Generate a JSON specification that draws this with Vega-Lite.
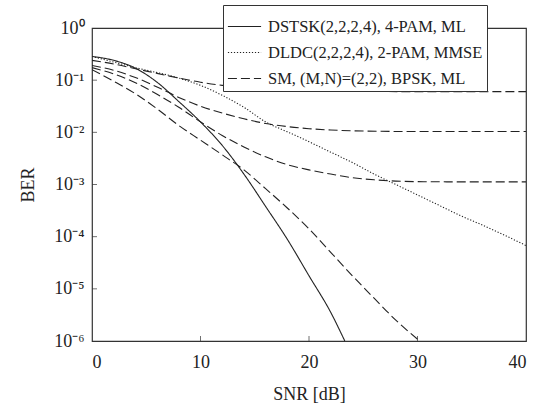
{
  "$schema": "https://vega.github.io/schema/vega-lite/v6.json",
  "width": 434,
  "height": 313,
  "autosize": "none",
  "padding": {"left": 92, "top": 28, "right": 13, "bottom": 69},
  "config": {
    "font": "Liberation Serif",
    "view": {"stroke": "#333", "strokeWidth": 1.2},
    "axis": {"labelFont": "Liberation Serif", "titleFont": "Liberation Serif", "labelColor": "#222", "titleColor": "#222", "titleFontWeight": "normal", "domain": false, "grid": false, "ticks": false},
    "legend": {"labelFont": "Liberation Serif"}
  },
  "datasets": {
    "xt": [{"snr": 10, "lg": -6}, {"snr": 20, "lg": -6}, {"snr": 30, "lg": -6}],
    "yt": [{"snr": 0, "lg": -1}, {"snr": 0, "lg": -2}, {"snr": 0, "lg": -3}, {"snr": 0, "lg": -4}, {"snr": 0, "lg": -5}]
  },
  "data": {"values": [
    {"s": "DSTSK(2,2,2,4), 4-PAM, ML", "c": "a", "snr": 0, "lg": -0.545},
    {"s": "DSTSK(2,2,2,4), 4-PAM, ML", "c": "a", "snr": 2, "lg": -0.62},
    {"s": "DSTSK(2,2,2,4), 4-PAM, ML", "c": "a", "snr": 4, "lg": -0.77},
    {"s": "DSTSK(2,2,2,4), 4-PAM, ML", "c": "a", "snr": 6, "lg": -1.04},
    {"s": "DSTSK(2,2,2,4), 4-PAM, ML", "c": "a", "snr": 8, "lg": -1.41},
    {"s": "DSTSK(2,2,2,4), 4-PAM, ML", "c": "a", "snr": 10, "lg": -1.80},
    {"s": "DSTSK(2,2,2,4), 4-PAM, ML", "c": "a", "snr": 12, "lg": -2.25},
    {"s": "DSTSK(2,2,2,4), 4-PAM, ML", "c": "a", "snr": 14, "lg": -2.80},
    {"s": "DSTSK(2,2,2,4), 4-PAM, ML", "c": "a", "snr": 16, "lg": -3.42},
    {"s": "DSTSK(2,2,2,4), 4-PAM, ML", "c": "a", "snr": 18, "lg": -4.05},
    {"s": "DSTSK(2,2,2,4), 4-PAM, ML", "c": "a", "snr": 20, "lg": -4.75},
    {"s": "DSTSK(2,2,2,4), 4-PAM, ML", "c": "a", "snr": 22, "lg": -5.45},
    {"s": "DSTSK(2,2,2,4), 4-PAM, ML", "c": "a", "snr": 23.3, "lg": -6.0},
    {"s": "DLDC(2,2,2,4), 2-PAM, MMSE", "c": "b", "snr": 0, "lg": -0.545},
    {"s": "DLDC(2,2,2,4), 2-PAM, MMSE", "c": "b", "snr": 4, "lg": -0.76},
    {"s": "DLDC(2,2,2,4), 2-PAM, MMSE", "c": "b", "snr": 8, "lg": -0.96},
    {"s": "DLDC(2,2,2,4), 2-PAM, MMSE", "c": "b", "snr": 10, "lg": -1.10},
    {"s": "DLDC(2,2,2,4), 2-PAM, MMSE", "c": "b", "snr": 12, "lg": -1.29},
    {"s": "DLDC(2,2,2,4), 2-PAM, MMSE", "c": "b", "snr": 14, "lg": -1.52},
    {"s": "DLDC(2,2,2,4), 2-PAM, MMSE", "c": "b", "snr": 16, "lg": -1.80},
    {"s": "DLDC(2,2,2,4), 2-PAM, MMSE", "c": "b", "snr": 18, "lg": -1.99},
    {"s": "DLDC(2,2,2,4), 2-PAM, MMSE", "c": "b", "snr": 20, "lg": -2.18},
    {"s": "DLDC(2,2,2,4), 2-PAM, MMSE", "c": "b", "snr": 22, "lg": -2.38},
    {"s": "DLDC(2,2,2,4), 2-PAM, MMSE", "c": "b", "snr": 24, "lg": -2.58},
    {"s": "DLDC(2,2,2,4), 2-PAM, MMSE", "c": "b", "snr": 26, "lg": -2.80},
    {"s": "DLDC(2,2,2,4), 2-PAM, MMSE", "c": "b", "snr": 28, "lg": -3.00},
    {"s": "DLDC(2,2,2,4), 2-PAM, MMSE", "c": "b", "snr": 30, "lg": -3.20},
    {"s": "DLDC(2,2,2,4), 2-PAM, MMSE", "c": "b", "snr": 32, "lg": -3.40},
    {"s": "DLDC(2,2,2,4), 2-PAM, MMSE", "c": "b", "snr": 34, "lg": -3.60},
    {"s": "DLDC(2,2,2,4), 2-PAM, MMSE", "c": "b", "snr": 36, "lg": -3.78},
    {"s": "DLDC(2,2,2,4), 2-PAM, MMSE", "c": "b", "snr": 38, "lg": -3.97},
    {"s": "DLDC(2,2,2,4), 2-PAM, MMSE", "c": "b", "snr": 40, "lg": -4.17},
    {"s": "SM, (M,N)=(2,2), BPSK, ML", "c": "d1", "snr": 0, "lg": -0.62},
    {"s": "SM, (M,N)=(2,2), BPSK, ML", "c": "d1", "snr": 2, "lg": -0.69},
    {"s": "SM, (M,N)=(2,2), BPSK, ML", "c": "d1", "snr": 4, "lg": -0.78},
    {"s": "SM, (M,N)=(2,2), BPSK, ML", "c": "d1", "snr": 6, "lg": -0.87},
    {"s": "SM, (M,N)=(2,2), BPSK, ML", "c": "d1", "snr": 8, "lg": -0.96},
    {"s": "SM, (M,N)=(2,2), BPSK, ML", "c": "d1", "snr": 10, "lg": -1.04},
    {"s": "SM, (M,N)=(2,2), BPSK, ML", "c": "d1", "snr": 12, "lg": -1.10},
    {"s": "SM, (M,N)=(2,2), BPSK, ML", "c": "d1", "snr": 14, "lg": -1.14},
    {"s": "SM, (M,N)=(2,2), BPSK, ML", "c": "d1", "snr": 16, "lg": -1.17},
    {"s": "SM, (M,N)=(2,2), BPSK, ML", "c": "d1", "snr": 18, "lg": -1.19},
    {"s": "SM, (M,N)=(2,2), BPSK, ML", "c": "d1", "snr": 20, "lg": -1.205},
    {"s": "SM, (M,N)=(2,2), BPSK, ML", "c": "d1", "snr": 25, "lg": -1.215},
    {"s": "SM, (M,N)=(2,2), BPSK, ML", "c": "d1", "snr": 30, "lg": -1.22},
    {"s": "SM, (M,N)=(2,2), BPSK, ML", "c": "d1", "snr": 40, "lg": -1.22},
    {"s": "SM, (M,N)=(2,2), BPSK, ML", "c": "d2", "snr": 0, "lg": -0.72},
    {"s": "SM, (M,N)=(2,2), BPSK, ML", "c": "d2", "snr": 2, "lg": -0.81},
    {"s": "SM, (M,N)=(2,2), BPSK, ML", "c": "d2", "snr": 4, "lg": -0.95},
    {"s": "SM, (M,N)=(2,2), BPSK, ML", "c": "d2", "snr": 6, "lg": -1.13},
    {"s": "SM, (M,N)=(2,2), BPSK, ML", "c": "d2", "snr": 8, "lg": -1.33},
    {"s": "SM, (M,N)=(2,2), BPSK, ML", "c": "d2", "snr": 10, "lg": -1.50},
    {"s": "SM, (M,N)=(2,2), BPSK, ML", "c": "d2", "snr": 12, "lg": -1.63},
    {"s": "SM, (M,N)=(2,2), BPSK, ML", "c": "d2", "snr": 14, "lg": -1.74},
    {"s": "SM, (M,N)=(2,2), BPSK, ML", "c": "d2", "snr": 16, "lg": -1.83},
    {"s": "SM, (M,N)=(2,2), BPSK, ML", "c": "d2", "snr": 18, "lg": -1.89},
    {"s": "SM, (M,N)=(2,2), BPSK, ML", "c": "d2", "snr": 20, "lg": -1.93},
    {"s": "SM, (M,N)=(2,2), BPSK, ML", "c": "d2", "snr": 22, "lg": -1.955},
    {"s": "SM, (M,N)=(2,2), BPSK, ML", "c": "d2", "snr": 25, "lg": -1.975},
    {"s": "SM, (M,N)=(2,2), BPSK, ML", "c": "d2", "snr": 30, "lg": -1.985},
    {"s": "SM, (M,N)=(2,2), BPSK, ML", "c": "d2", "snr": 40, "lg": -1.985},
    {"s": "SM, (M,N)=(2,2), BPSK, ML", "c": "d3", "snr": 0, "lg": -0.76},
    {"s": "SM, (M,N)=(2,2), BPSK, ML", "c": "d3", "snr": 2, "lg": -0.88},
    {"s": "SM, (M,N)=(2,2), BPSK, ML", "c": "d3", "snr": 4, "lg": -1.05},
    {"s": "SM, (M,N)=(2,2), BPSK, ML", "c": "d3", "snr": 6, "lg": -1.27},
    {"s": "SM, (M,N)=(2,2), BPSK, ML", "c": "d3", "snr": 8, "lg": -1.52},
    {"s": "SM, (M,N)=(2,2), BPSK, ML", "c": "d3", "snr": 10, "lg": -1.80},
    {"s": "SM, (M,N)=(2,2), BPSK, ML", "c": "d3", "snr": 12, "lg": -2.06},
    {"s": "SM, (M,N)=(2,2), BPSK, ML", "c": "d3", "snr": 14, "lg": -2.28},
    {"s": "SM, (M,N)=(2,2), BPSK, ML", "c": "d3", "snr": 16, "lg": -2.47},
    {"s": "SM, (M,N)=(2,2), BPSK, ML", "c": "d3", "snr": 18, "lg": -2.62},
    {"s": "SM, (M,N)=(2,2), BPSK, ML", "c": "d3", "snr": 20, "lg": -2.72},
    {"s": "SM, (M,N)=(2,2), BPSK, ML", "c": "d3", "snr": 22, "lg": -2.80},
    {"s": "SM, (M,N)=(2,2), BPSK, ML", "c": "d3", "snr": 24, "lg": -2.87},
    {"s": "SM, (M,N)=(2,2), BPSK, ML", "c": "d3", "snr": 26, "lg": -2.91},
    {"s": "SM, (M,N)=(2,2), BPSK, ML", "c": "d3", "snr": 28, "lg": -2.935},
    {"s": "SM, (M,N)=(2,2), BPSK, ML", "c": "d3", "snr": 30, "lg": -2.945},
    {"s": "SM, (M,N)=(2,2), BPSK, ML", "c": "d3", "snr": 35, "lg": -2.95},
    {"s": "SM, (M,N)=(2,2), BPSK, ML", "c": "d3", "snr": 40, "lg": -2.95},
    {"s": "SM, (M,N)=(2,2), BPSK, ML", "c": "d4", "snr": 0, "lg": -0.80},
    {"s": "SM, (M,N)=(2,2), BPSK, ML", "c": "d4", "snr": 2, "lg": -1.02},
    {"s": "SM, (M,N)=(2,2), BPSK, ML", "c": "d4", "snr": 4, "lg": -1.26},
    {"s": "SM, (M,N)=(2,2), BPSK, ML", "c": "d4", "snr": 6, "lg": -1.55},
    {"s": "SM, (M,N)=(2,2), BPSK, ML", "c": "d4", "snr": 8, "lg": -1.87},
    {"s": "SM, (M,N)=(2,2), BPSK, ML", "c": "d4", "snr": 10, "lg": -2.15},
    {"s": "SM, (M,N)=(2,2), BPSK, ML", "c": "d4", "snr": 12, "lg": -2.43},
    {"s": "SM, (M,N)=(2,2), BPSK, ML", "c": "d4", "snr": 14, "lg": -2.72},
    {"s": "SM, (M,N)=(2,2), BPSK, ML", "c": "d4", "snr": 16, "lg": -3.08},
    {"s": "SM, (M,N)=(2,2), BPSK, ML", "c": "d4", "snr": 18, "lg": -3.45},
    {"s": "SM, (M,N)=(2,2), BPSK, ML", "c": "d4", "snr": 20, "lg": -3.85},
    {"s": "SM, (M,N)=(2,2), BPSK, ML", "c": "d4", "snr": 22, "lg": -4.30},
    {"s": "SM, (M,N)=(2,2), BPSK, ML", "c": "d4", "snr": 24, "lg": -4.75},
    {"s": "SM, (M,N)=(2,2), BPSK, ML", "c": "d4", "snr": 26, "lg": -5.18},
    {"s": "SM, (M,N)=(2,2), BPSK, ML", "c": "d4", "snr": 28, "lg": -5.60},
    {"s": "SM, (M,N)=(2,2), BPSK, ML", "c": "d4", "snr": 30.2, "lg": -6.0}
  ]},
  "layer": [
    {
      "mark": {"type": "line", "color": "#222", "strokeWidth": 1.1, "clip": true, "interpolate": "monotone"},
      "encoding": {
        "x": {
          "field": "snr", "type": "quantitative",
          "scale": {"domain": [0, 40], "nice": false},
          "axis": {"values": [0, 10, 20, 30, 40], "labelPadding": 12, "labelFontSize": 18, "title": "SNR [dB]", "titleFontSize": 18, "titlePadding": 14}
        },
        "y": {
          "field": "lg", "type": "quantitative",
          "scale": {"domain": [-6, 0], "nice": false},
          "axis": {"values": [0, -1, -2, -3, -4, -5, -6], "labelPadding": 8,
            "labelExpr": "'10' + (datum.value == 0 ? '⁰' : datum.value == -1 ? '⁻¹' : datum.value == -2 ? '⁻²' : datum.value == -3 ? '⁻³' : datum.value == -4 ? '⁻⁴' : datum.value == -5 ? '⁻⁵' : '⁻⁶')",
            "labelFontSize": 18, "title": "BER", "titleFontSize": 18, "titlePadding": 16}
        },
        "strokeDash": {
          "field": "s", "type": "nominal",
          "scale": {"domain": ["DSTSK(2,2,2,4), 4-PAM, ML", "DLDC(2,2,2,4), 2-PAM, MMSE", "SM, (M,N)=(2,2), BPSK, ML"], "range": [[1, 0], [1.2, 1.8], [9, 4]]},
          "legend": {"title": null, "orient": "none", "legendX": 131, "legendY": -23, "symbolType": "stroke", "symbolSize": 1100, "symbolStrokeWidth": 1.1, "symbolStrokeColor": "#222", "labelFontSize": 16.5, "labelColor": "#222", "fillColor": "white", "strokeColor": "#333", "padding": 4, "rowPadding": -8, "labelOffset": 6, "labelLimit": 400, "symbolLimit": 0}
        },
        "detail": {"field": "c", "type": "nominal"}
      }
    },
    {
      "data": {"name": "xt"},
      "mark": {"type": "tick", "orient": "vertical", "size": 10, "thickness": 1, "color": "#333", "clip": true},
      "encoding": {
        "x": {"field": "snr", "type": "quantitative"},
        "y": {"field": "lg", "type": "quantitative"}
      }
    },
    {
      "data": {"name": "yt"},
      "mark": {"type": "tick", "orient": "horizontal", "size": 10, "thickness": 1, "color": "#333", "clip": true},
      "encoding": {
        "x": {"field": "snr", "type": "quantitative"},
        "y": {"field": "lg", "type": "quantitative"}
      }
    }
  ]
}
